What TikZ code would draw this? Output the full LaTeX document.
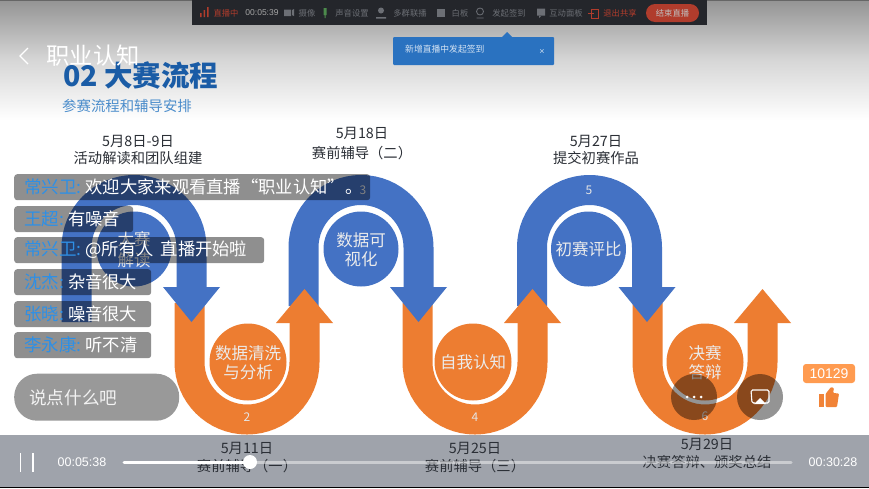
\documentclass[tikz,border=0pt]{standalone}
\usepackage{fontspec}
\setmainfont{Noto Sans CJK SC}
\newfontfamily\latinf{Liberation Sans}
\definecolor{bblue}{HTML}{4472C4}
\definecolor{borange}{HTML}{ED7D31}
\definecolor{tbar}{HTML}{24262B}
\definecolor{tgray}{HTML}{6C6F75}
\definecolor{tred}{HTML}{B03C2C}
\definecolor{popblue}{HTML}{2A72C0}
\definecolor{slideb}{HTML}{1A5CA6}
\definecolor{slideb2}{HTML}{4A8CCB}
\definecolor{namec}{HTML}{2E8FE6}
\definecolor{barc}{HTML}{9FA3AB}
\definecolor{darktxt}{HTML}{2B2F36}
\definecolor{likec}{HTML}{FF9B50}
\newcommand{\pxf}[1]{\fontsize{#1}{#1}\selectfont}
\newcommand{\archband}[1]{\draw[line width=30pt,bblue] (#1-57.5,306) -- (#1-57.5,247.5) arc[start angle=180,end angle=0,radius=57.5pt] -- (#1+57.5,288);}
\newcommand{\uband}[2]{\draw[line width=30pt,borange] (#1-57.5,303) -- (#1-57.5,362) arc[start angle=180,end angle=360,radius=57.5pt] -- (#1+57.5,#2);}
\newcommand{\bluehead}[1]{\fill[bblue] (#1-28.5,287) -- (#1+28.5,287) -- (#1,322) -- cycle;}
\newcommand{\orangehead}[1]{\fill[borange] (#1-28.5,323) -- (#1+28.5,323) -- (#1,289) -- cycle;}
\tikzset{
 disc/.style={circle,minimum size=75pt,inner sep=0pt,text=white!92!black,align=center,font=\pxf{16.5},text depth=0pt},
 bluedisc/.style={disc,fill=bblue},
 orangedisc/.style={disc,fill=borange,minimum size=77pt},
 datelabel/.style={align=center,text=darktxt,font=\pxf{14.3},inner sep=0pt},
 numlabel/.style={text=white!90!black,font=\pxf{12},inner sep=0pt},
 tooltxt/.style={text=tgray,font=\pxf{8.3},inner sep=0pt},
 bubble/.style={anchor=north west,fill=black,fill opacity=.44,rounded corners=3pt,inner sep=0pt,minimum height=26pt},
 chat/.style={anchor=west,text=white,font=\pxf{17.3},inner sep=0pt},
 overlay disc/.style={circle,fill=black,fill opacity=.42,minimum size=46pt,inner sep=0pt},
 timetxt/.style={text=white,font={\latinf\pxf{12.5}},inner sep=0pt}
}
\newcommand{\who}[1]{\textcolor{namec}{\pxf{17.5}#1:}\hspace{4pt}}
\begin{document}
\begin{tikzpicture}[x=1pt,y=-1pt]
\useasboundingbox (0,0) rectangle (869,488);
\fill[white] (0,0) rectangle (869,488);
% top shade
\shade[top color=black!42,bottom color=white,middle color=black!16] (0,0) rectangle (869,120);
\fill[black!60] (0,0) rectangle (869,1);
% screen-shared toolbar
\fill[tbar] (192,0) rectangle (707,25);
\fill[tred] (200,17) rectangle (201.5,13) (203.5,17) rectangle (205,10) (207,17) rectangle (208.5,7);
\node[tooltxt,text=tred] (t1) at (226,13) {直播中};
\node[tooltxt,text=black!35,font={\latinf\pxf{8.5}}] (t2) at (262,13) {00:05:39};
\fill[tgray] (284,9.5) rectangle (291,16) (292,10) -- (294,9) -- (294,16) -- (292,15) -- cycle;
\node[tooltxt] (t3) at (307,13) {摄像};
\fill[green!35!black!70] (323.5,8) rectangle (326.5,15) (324.5,15) rectangle (325.5,18);
\node[tooltxt] (t4) at (352,13) {声音设置};
\fill[tgray] (381,10.5) circle (3) (376,17) rectangle (386,18.5);
\node[tooltxt] (t5) at (410,13) {多群联播};
\fill[tgray] (437,9) rectangle (445,17);
\node[tooltxt] (t6) at (460,13) {白板};
\draw[tgray,line width=.8pt] (480,11.5) circle (3.5) (476.5,18) -- (483.5,18);
\node[tooltxt] (t7) at (509,13) {发起签到};
\fill[tgray] (537,8.5) rectangle (545,15.5) (539,15) -- (542,15) -- (539,18) -- cycle;
\node[tooltxt] (t8) at (566,13) {互动面板};
\draw[tred,line width=1pt] (591,9) rectangle (598,18) (588,13.5) -- (594,13.5);
\node[tooltxt,text=tred] (t9) at (620,13) {退出共享};
\node[fill=tred,rounded corners=9pt,minimum width=53pt,minimum height=18pt,inner sep=0pt,text=white!75!black,font=\pxf{8.3}] (endbtn) at (672.5,13) {结束直播};
% popup
\fill[popblue,rounded corners=1pt] (393,37) rectangle (554,65);
\fill[popblue] (502,37) -- (507,32) -- (512,37) -- cycle;
\node[anchor=west,inner sep=0pt,text=white!80!popblue,font=\pxf{8.8}] (pop) at (405,49) {新增直播中发起签到};
\node[inner sep=0pt,text=white!75!popblue,font={\latinf\pxf{9}}] (popx) at (542,52) {×};
% slide title
\node[anchor=west,inner sep=0pt,text=slideb,font=\bfseries\pxf{28.5}] (title) at (63,75) {02 大赛流程};
\node[anchor=west,inner sep=0pt,text=slideb2,font=\pxf{14.4}] (subtitle) at (62,106) {参赛流程和辅导安排};
% flow bands
\draw[line width=30pt,bblue] (76.5,322) -- (76.5,247.5) arc[start angle=180,end angle=0,radius=57.5pt] -- (191.5,288);
\archband{361}
\archband{589.5}
\uband{247}{323}
\uband{475}{323}
\uband{705}{323}
\bluehead{191.5}
\bluehead{418.5}
\bluehead{647}
\orangehead{304.5}
\orangehead{532.5}
\orangehead{762.5}
% discs
\node[bluedisc] (d1) at (134,249) {大赛\\[4pt]解读};
\node[orangedisc] (d2) at (248,362) {数据清洗\\[2.5pt]与分析};
\node[bluedisc] (d3) at (361,249) {数据可\\[2pt]视化};
\node[orangedisc] (d4) at (473,362) {自我认知};
\node[bluedisc] (d5) at (588.5,249) {初赛评比};
\node[orangedisc] (d6) at (705,362) {决赛\\[2pt]答辩};
\node[numlabel] (n2) at (247,417) {2};
\node[numlabel] (n3) at (363,190) {3};
\node[numlabel] (n4) at (475,417) {4};
\node[numlabel] (n5) at (589,190) {5};
\node[numlabel] (n6) at (705,416) {6};
% dates above
\node[datelabel] (l1) at (138,149.5) {5月8日-9日\\[2.7pt]活动解读和团队组建};
\node[datelabel] (l3) at (362,144) {5月18日\\[5.7pt]赛前辅导（二）};
\node[datelabel] (l5) at (596,149.5) {5月27日\\[2.7pt]提交初赛作品};
% player bar
\fill[barc] (0,435) rectangle (869,487);
\fill[black] (0,487) rectangle (869,488);
\node[datelabel] (l2) at (247,458) {5月11日\\[3.7pt]赛前辅导（一）};
\node[datelabel] (l4) at (475,458) {5月25日\\[3.7pt]赛前辅导（三）};
\node[datelabel] (l6) at (707,453) {5月29日\\[3.7pt]决赛答辩、颁奖总结};
\draw[white,opacity=.45,line width=3pt,line cap=round] (250,462) -- (791,462);
\draw[white,line width=3pt,line cap=round] (124,462) -- (250,462);
\fill[white] (250,462) circle (7);
\draw[white,line width=1.3pt] (20.5,453) -- (20.5,472) (33,453) -- (33,472);
\node[timetxt] (tcur) at (82,462) {00:05:38};
\node[timetxt] (ttot) at (833,462) {00:30:28};
% back + live title
\draw[white,line width=1.3pt] (28,48) -- (20,56) -- (28,64);
\node[inner sep=0pt,text=white,font=\pxf{23.3}] (livetitle) at (93,56) {职业认知};
% chat bubbles
\node[bubble,minimum width=356pt] (b1) at (14,174) {};
\node[bubble,minimum width=119pt] (b2) at (14,206) {};
\node[bubble,minimum width=250pt] (b3) at (14,237) {};
\node[bubble,minimum width=137pt] (b4) at (14,269) {};
\node[bubble,minimum width=137pt] (b5) at (14,301) {};
\node[bubble,minimum width=137pt] (b6) at (14,332) {};
\node[chat] (c1) at (24,187) {\who{常兴卫}欢迎大家来观看直播“职业认知”。};
\node[chat] (c2) at (24,219) {\who{王超}有噪音};
\node[chat] (c3) at (24,250) {\who{常兴卫}@所有人\hspace{3pt} 直播开始啦};
\node[chat] (c4) at (24,282) {\who{沈杰}杂音很大};
\node[chat] (c5) at (24,314) {\who{张晓}噪音很大};
\node[chat] (c6) at (24,345) {\who{李永康}听不清};
% input
\node[anchor=north west,fill=black!40,rounded corners=23pt,minimum width=165pt,minimum height=47pt,inner sep=0pt] (inputbox) at (14,373.5) {};
\node[anchor=west,inner sep=0pt,text=white!95!black,font=\pxf{17.6}] (inputtxt) at (29,398) {说点什么吧};
% round buttons
\node[overlay disc] (more) at (694,397) {};
\node[overlay disc] (cast) at (760,397) {};
\fill[white] (687,397) circle (1.5) (694,397) circle (1.5) (701,397) circle (1.5);
\draw[white,line width=1.1pt,rounded corners=1.5pt] (755,403) -- (752,403) -- (751,390) -- (769,390) -- (769,403) -- (765,403);
\fill[white] (754,404) -- (766,404) -- (760,398) -- cycle;
% like
\node[fill=likec,rounded corners=3pt,minimum width=52pt,minimum height=19pt,inner sep=0pt,text=white,font={\latinf\pxf{14}}] (likes) at (829,373.5) {10129};
\fill[borange!80!likec] (819,394) rectangle (824,407);
\fill[borange!80!likec,rounded corners=1pt] (825.5,394) -- (831,387) -- (834,388) -- (833,393) -- (839,393.5) -- (837,407) -- (825.5,407) -- cycle;
\end{tikzpicture}
\end{document}
